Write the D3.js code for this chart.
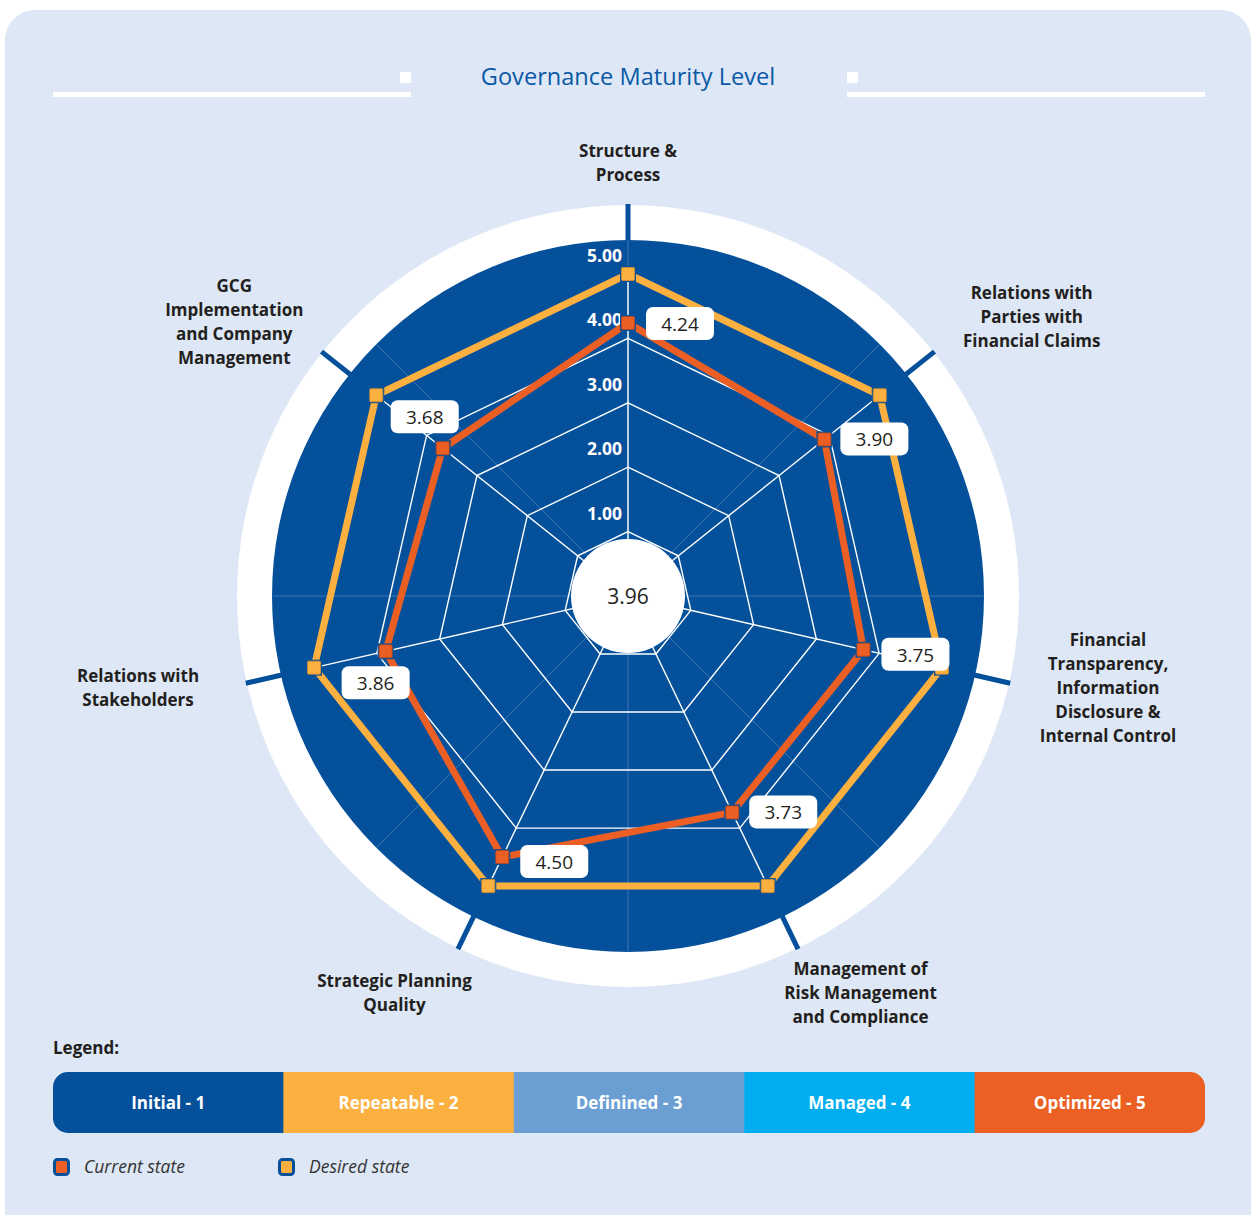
<!DOCTYPE html>
<html>
<head>
<meta charset="utf-8">
<script src="https://cdn.jsdelivr.net/npm/d3@7"></script>
<style>
  body { margin: 0; background: #ffffff; }
  svg { display: block; }
</style>
</head>
<body>
<div id="chart"></div>
<script>
// chart data
const categories = [
    "Structure &|Process",
    "Relations with|Parties with|Financial Claims",
    "Financial|Transparency,|Information|Disclosure &|Internal Control",
    "Management of|Risk Management|and Compliance",
    "Strategic Planning|Quality",
    "Relations with|Stakeholders",
    "GCG|Implementation|and Company|Management"
];
const currentState = [4.24, 3.90, 3.75, 3.73, 4.50, 3.86, 3.68];
const desiredState = [5.00, 5.00, 5.00, 5.00, 5.00, 5.00, 5.00];
const overallScore = "3.96";
const levelTicks = [1, 2, 3, 4, 5];
const maturityLevels = ["Initial - 1", "Repeatable - 2", "Definined - 3", "Managed - 4", "Optimized - 5"];
const seriesNames = ["Current state", "Desired state"];

// layout / styles
const W = 1253, H = 1215;
const cx = 628, cy = 596;
const outerR = 391, discR = 356, maxR = 322, holeR = 57;
const levelColors = ["#05509b", "#fbb040", "#6b9fd4", "#00aeef", "#ec6024"];
const currentColor = "#eb5f24", desiredColor = "#fbb040";
const disc = "#05509b";
// where each value box sits relative to its point
const boxOffsets = [[52, 1], [50, 0], [52, 5], [51, 0], [52, 5], [-10, 32], [-18, -31]];
// category label block offset from an anchor at r=400 along the axis
const catOffsets = [[0, -33], [91, -30], [90, 3], [59, 37], [-60, 37], [-100, 3], [-81, -25]];

const svg = d3.select("#chart").append("svg")
    .attr("width", W)
    .attr("height", H);

svg.append("rect")
    .attr("x", 5).attr("y", 10)
    .attr("width", 1246).attr("height", 1230)
    .attr("rx", 30)
    .attr("fill", "#dde7f5");

// title with decorative lines
svg.append("text")
    .attr("x", cx).attr("y", 85)
    .attr("text-anchor", "middle")
    .attr("font-family", "Open Sans")
    .attr("font-size", 23.6)
    .attr("fill", "#0b5aa6")
    .text("Governance Maturity Level");

svg.append("rect").attr("x", 53).attr("y", 92).attr("width", 358).attr("height", 5).attr("fill", "#fff");
svg.append("rect").attr("x", 400).attr("y", 72).attr("width", 11).attr("height", 11).attr("fill", "#fff");
svg.append("rect").attr("x", 847).attr("y", 92).attr("width", 358).attr("height", 5).attr("fill", "#fff");
svg.append("rect").attr("x", 847).attr("y", 72).attr("width", 11).attr("height", 11).attr("fill", "#fff");

const n = categories.length;
const angle = d3.scaleLinear().domain([0, n]).range([0, 2 * Math.PI]);
const r = d3.scaleLinear().domain([0, 5]).range([0, maxR]);

const g = svg.append("g").attr("transform", "translate(" + cx + "," + cy + ")");

g.append("circle").attr("r", outerR).attr("fill", "#fff");
g.append("circle").attr("r", discR).attr("fill", disc);

// ticks on white ring
g.selectAll(".ringtick")
    .data(categories)
    .enter()
    .append("line")
    .attr("x1", (d, i) => d3.pointRadial(angle(i), discR - 2)[0])
    .attr("y1", (d, i) => d3.pointRadial(angle(i), discR - 2)[1])
    .attr("x2", (d, i) => d3.pointRadial(angle(i), outerR + 1)[0])
    .attr("y2", (d, i) => d3.pointRadial(angle(i), outerR + 1)[1])
    .attr("stroke", disc)
    .attr("stroke-width", 5);

// faint background guides
g.selectAll(".guide")
    .data(d3.range(8))
    .enter()
    .append("line")
    .attr("x2", d => d3.pointRadial(d * Math.PI / 4, discR)[0])
    .attr("y2", d => d3.pointRadial(d * Math.PI / 4, discR)[1])
    .attr("stroke", "#fff")
    .attr("stroke-opacity", 0.22)
    .attr("stroke-width", 1);

// heptagon grid
const gridLine = d3.lineRadial()
    .angle((d, i) => angle(i))
    .radius(d => r(d))
    .curve(d3.curveLinearClosed);

g.selectAll(".ring")
    .data(levelTicks)
    .enter()
    .append("path")
    .attr("d", lv => gridLine(categories.map(() => lv)))
    .attr("fill", "none")
    .attr("stroke", "#fff")
    .attr("stroke-width", 1.4);

g.selectAll(".spoke")
    .data(categories)
    .enter()
    .append("line")
    .attr("x2", (d, i) => d3.pointRadial(angle(i), r(5))[0])
    .attr("y2", (d, i) => d3.pointRadial(angle(i), r(5))[1])
    .attr("stroke", "#fff")
    .attr("stroke-width", 1.4);

g.selectAll(".lvl")
    .data(levelTicks)
    .enter()
    .append("text")
    .attr("x", -6)
    .attr("y", d => -r(d) - 12)
    .attr("text-anchor", "end")
    .attr("font-family", "Open Sans")
    .attr("font-weight", 700)
    .attr("font-size", 17.5)
    .attr("fill", "#fff")
    .text(d => d3.format(".2f")(d));

// series polygons
const series = [
    {name: seriesNames[1], values: desiredState, color: desiredColor, edge: "#d98f2c"},
    {name: seriesNames[0], values: currentState, color: currentColor, edge: "#b8461a"}
];

series.forEach(function (s) {
    g.append("path")
        .attr("d", gridLine(s.values))
        .attr("fill", "none")
        .attr("stroke", s.color)
        .attr("stroke-width", 7)
        .attr("stroke-linejoin", "miter");
});

series.forEach(function (s) {
    const pts = g.selectAll(null)
        .data(s.values)
        .enter()
        .append("g")
        .attr("transform", (d, i) => "translate(" + d3.pointRadial(angle(i), r(d)) + ")");
    pts.append("rect")
        .attr("x", -8).attr("y", -8)
        .attr("width", 16).attr("height", 16)
        .attr("fill", disc);
    pts.append("rect")
        .attr("x", -6.5).attr("y", -6.5)
        .attr("width", 13).attr("height", 13)
        .attr("rx", 1)
        .attr("fill", s.color)
        .attr("stroke", s.edge)
        .attr("stroke-width", 0.8);
});

// center hole
g.append("circle").attr("r", holeR).attr("fill", "#fff");
g.append("text")
    .attr("y", 8)
    .attr("text-anchor", "middle")
    .attr("font-family", "Open Sans")
    .attr("font-size", 21)
    .attr("fill", "#231f20")
    .text(overallScore);

// value boxes
const boxes = g.selectAll(".vbox")
    .data(currentState)
    .enter()
    .append("g")
    .attr("transform", function (d, i) {
        const p = d3.pointRadial(angle(i), r(d));
        return "translate(" + (p[0] + boxOffsets[i][0]) + "," + (p[1] + boxOffsets[i][1]) + ")";
    });
boxes.append("rect")
    .attr("x", -34).attr("y", -17)
    .attr("width", 68).attr("height", 33)
    .attr("rx", 7)
    .attr("fill", "#fff");
boxes.append("text")
    .attr("y", 7)
    .attr("text-anchor", "middle")
    .attr("font-family", "Open Sans")
    .attr("font-size", 19)
    .attr("fill", "#231f20")
    .text(d => d3.format(".2f")(d));

// category labels
categories.forEach(function (c, i) {
    const lines = c.split("|");
    const a = d3.pointRadial(angle(i), 400);
    const bx = a[0] + catOffsets[i][0];
    const by = a[1] + catOffsets[i][1];
    const lh = 24;
    const t = g.append("text")
        .attr("text-anchor", "middle")
        .attr("font-family", "Open Sans")
        .attr("font-weight", 700)
        .attr("font-size", 17)
        .attr("fill", "#231f20");
    lines.forEach(function (ln, k) {
        t.append("tspan")
            .attr("x", bx)
            .attr("y", by + (k - (lines.length - 1) / 2) * lh + 6)
            .text(ln);
    });
});

// legend
svg.append("text")
    .attr("x", 53).attr("y", 1054)
    .attr("font-family", "Open Sans")
    .attr("font-weight", 700)
    .attr("font-size", 17)
    .attr("fill", "#231f20")
    .text("Legend:");

const lx = d3.scaleBand().domain(maturityLevels).range([53, 1205]);
const barTop = 1072, barH = 61;

svg.append("defs").append("clipPath").attr("id", "barclip")
    .append("rect")
    .attr("x", 53).attr("y", barTop)
    .attr("width", 1152).attr("height", barH)
    .attr("rx", 15);

const lg = svg.append("g").attr("clip-path", "url(#barclip)");
lg.selectAll("rect")
    .data(maturityLevels)
    .enter()
    .append("rect")
    .attr("x", d => lx(d))
    .attr("y", barTop)
    .attr("width", lx.bandwidth() + 0.5)
    .attr("height", barH)
    .attr("fill", (d, i) => levelColors[i]);

svg.selectAll(".lvlname")
    .data(maturityLevels)
    .enter()
    .append("text")
    .attr("x", d => lx(d) + lx.bandwidth() / 2)
    .attr("y", barTop + barH / 2 + 6)
    .attr("text-anchor", "middle")
    .attr("font-family", "Open Sans")
    .attr("font-weight", 700)
    .attr("font-size", 17)
    .attr("fill", "#fff")
    .text(d => d);

const keys = [
    {name: seriesNames[0], color: currentColor, x: 53},
    {name: seriesNames[1], color: desiredColor, x: 278}
];
const kg = svg.selectAll(".key")
    .data(keys)
    .enter()
    .append("g")
    .attr("transform", d => "translate(" + d.x + ",1158)");
kg.append("rect")
    .attr("x", 1.5).attr("y", 1.5)
    .attr("width", 14).attr("height", 15)
    .attr("rx", 3)
    .attr("fill", d => d.color)
    .attr("stroke", disc)
    .attr("stroke-width", 3);
kg.append("text")
    .attr("x", 31).attr("y", 15)
    .attr("font-family", "Open Sans")
    .attr("font-style", "italic")
    .attr("font-size", 17.5)
    .attr("fill", "#333")
    .text(d => d.name);
</script>
</body>
</html>
